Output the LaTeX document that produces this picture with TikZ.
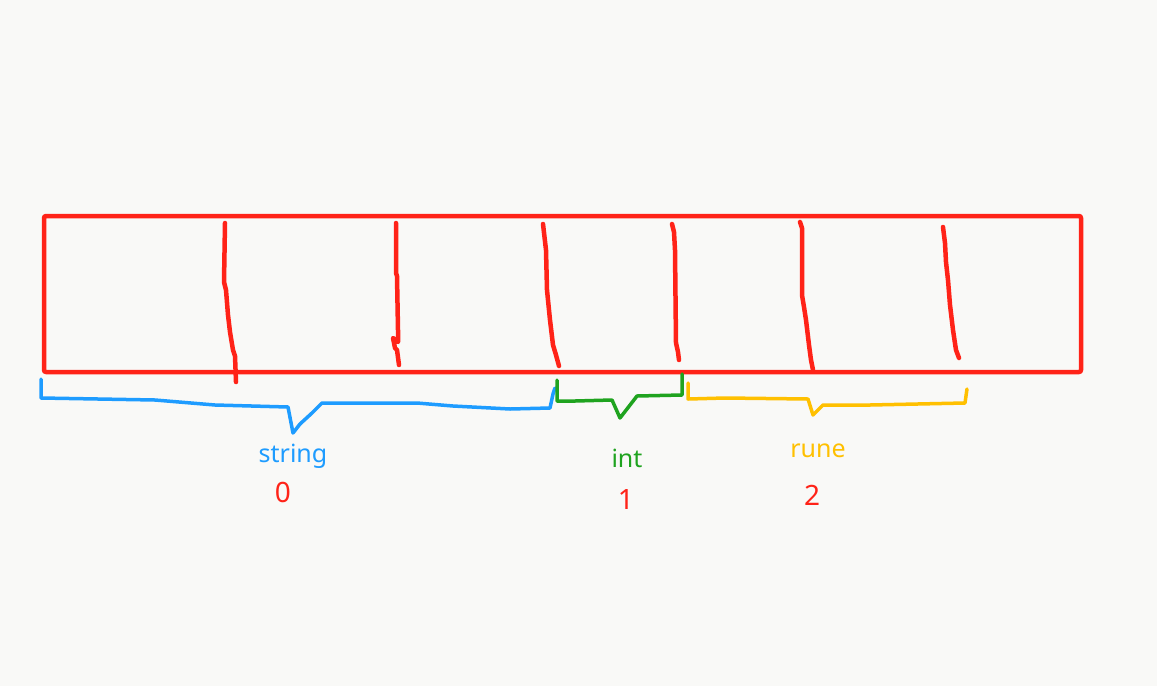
\documentclass[tikz,border=0pt]{standalone}
\usepackage{fontspec}
\setmainfont{Noto Sans}
\definecolor{bgc}{HTML}{F9F9F7}
\definecolor{penred}{HTML}{FF2318}
\definecolor{penblue}{HTML}{1E9CFF}
\definecolor{pengreen}{HTML}{1FA31F}
\definecolor{penyellow}{HTML}{FFC000}
\tikzset{
  redpen/.style={draw=penred, line width=4.5pt, line join=round, line cap=round},
  bracepen/.style={line width=3.5pt, line join=round, line cap=round},
  lbl/.style={font=\fontsize{25}{30}\selectfont, anchor=base, inner sep=0pt},
  digit/.style={font=\bfseries\fontsize{28}{32}\selectfont, anchor=base, inner sep=0pt, text=penred},
}
\begin{document}
\begin{tikzpicture}[x=1pt,y=-1pt]
\fill[bgc] (0,0) rectangle (1157,686);
\useasboundingbox (0,0) rectangle (1157,686);
% the row of cells
\draw[redpen, rounded corners=2pt] (44,216) rectangle (1081,372);
% hand-drawn dividers
\draw[redpen] (225,223) -- (224,282) -- (226,290) -- (228,315) -- (230,332) -- (233,350) -- (235,356) -- (236,382);
\draw[redpen] (396,223) -- (396,273) -- (397,276) -- (398,330) -- (398,342) -- (393,338) -- (395,348) -- (397,350) -- (399,365);
\draw[redpen] (543,224) -- (546,250) -- (547,290) -- (550,320) -- (553,345) -- (556,355) -- (559,366);
\draw[redpen] (672,224) -- (674,232) -- (675,250) -- (676,343) -- (678,352) -- (679,360);
\draw[redpen] (800,222) -- (802,228) -- (802,295) -- (804,307) -- (806,320) -- (809,345) -- (811,360) -- (813,370);
\draw[redpen] (943,227) -- (945,243) -- (946,262) -- (948,280) -- (950,305) -- (953,330) -- (956,350) -- (959,358);
% braces
\draw[bracepen, penblue] (41,379) -- (41,398) -- (155,400) -- (215,405) -- (288,407) -- (293,433) -- (300,424) -- (312,413) -- (322,403) -- (417,403) -- (453,406) -- (510,409) -- (550,408) -- (553,394) -- (555,388);
\draw[bracepen, pengreen] (557,380) -- (557,401) -- (575,401) -- (612,400) -- (620,418) -- (637,396) -- (682,395) -- (682,374);
\draw[bracepen, penyellow] (688,383) -- (688,399) -- (725,398) -- (808,399) -- (813,415) -- (823,405) -- (870,405) -- (965,403) -- (967,389);
% labels
\node[lbl, text=penblue] (lstring) at (293,462) {string};
\node[lbl, text=pengreen] (lint) at (627,467) {int};
\node[lbl, text=penyellow] (lrune) at (818,457) {rune};
\node[digit] (d0) at (283,502) {0};
\node[digit] (d1) at (626,509) {1};
\node[digit] (d2) at (812,505) {2};
\end{tikzpicture}
\end{document}
